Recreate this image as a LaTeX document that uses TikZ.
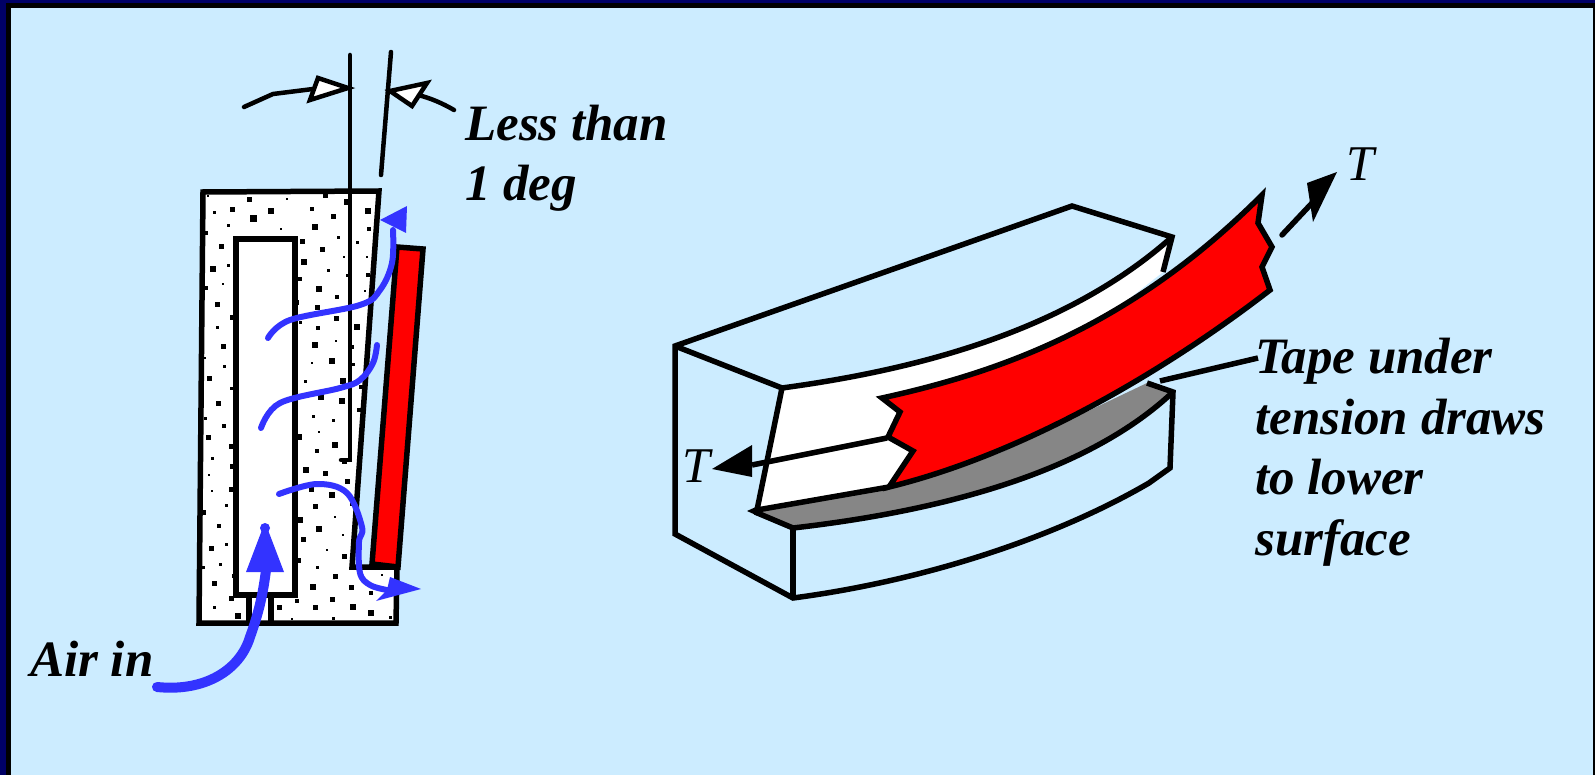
\documentclass[tikz,border=0pt]{standalone}
\usepackage{fontspec}
\setmainfont{Liberation Serif}
\definecolor{panelblue}{HTML}{CCECFF}
\definecolor{framenavy}{HTML}{000066}
\definecolor{flowblue}{HTML}{3333FF}
\definecolor{tapered}{HTML}{FF0000}
\definecolor{filmgray}{HTML}{868686}
\tikzset{
    edge/.style={draw=black,line width=5.5pt,line join=miter,miter limit=6},
    thinedge/.style={draw=black,line width=4.5pt,line cap=round},
    flow/.style={draw=flowblue,line width=6pt,line cap=round,line join=round},
    head/.style={fill=flowblue},
    callout/.style={font=\fontsize{51}{60.5}\selectfont\bfseries\itshape,inner sep=0pt,align=left},
    forcelabel/.style={font=\fontsize{50}{50}\selectfont\itshape,inner sep=0pt}
}
\begin{document}
\begin{tikzpicture}[x=1pt,y=-1pt]
    \useasboundingbox (0,0) rectangle (1595,775);
    \fill[framenavy] (0,0) rectangle (1595,775);
    \fill[black] (6,3) rectangle (1595,775);
    \fill[panelblue] (11,8) rectangle (1593,775);

    \draw[edge,fill=white] (203,192)--(379,191)--(352,567)--(397,567)--(396,623)--(199,623)--cycle;
    \foreach \x/\y/\s in {249/200/5,287/199/2,325/196/5,347/202/6,208/196/2,214/213/3,232/210/5,271/211/6,312/209/4,333/217/5,368/211/6,253/219/7,228/226/3,315/227/6,281/229/2,369/229/4,206/233/4,338/238/3,302/242/5,221/247/5,322/250/5,357/243/3,344/257/2,367/257/2,304/262/6,213/269/6,228/266/3,328/271/3,347/276/3,368/275/4,300/279/4,223/284/2,206/288/4,319/289/6,365/291/2,337/297/4,217/305/5,296/303/5,317/308/5,232/318/5,336/319/5,300/323/3,357/327/6,318/328/4,217/328/3,223/347/5,336/341/2,315/345/6,296/343/3,352/347/4,205/358/2,224/367/3,312/363/2,332/361/6,353/365/3,209/378/5,231/388/3,218/403/5,205/418/3,224/426/4,208/437/5,231/446/5,212/458/3,232/466/5,209/475/2,212/491/2,231/489/5,226/505/3,203/512/5,219/526/4,211/548/5,226/544/3,220/564/3,203/567/3,234/576/4,214/583/5,231/598/5,214/607/3,238/616/6,305/381/3,343/381/6,321/397/6,342/401/6,313/416/3,333/420/3,299/437/6,319/432/2,335/445/6,317/451/4,344/461/5,306/470/6,325/473/5,347/481/5,311/489/5,332/495/6,351/504/3,315/506/5,335/517/2,300/520/6,319/529/6,343/535/2,303/539/5,327/550/2,344/556/5,298/560/5,317/567/3,335/576/5,382/575/2,313/587/6,351/587/5,371/593/4,297/601/4,332/599/5,279/607/5,315/607/5,353/607/6,371/613/6,292/619/2,333/618/3,390/617/3,361/387/4,359/410/4}
        \fill[black] (\x-\s/2,\y-\s/2) rectangle (\x+\s/2,\y+\s/2);
    \draw[edge,fill=white] (236,239) rectangle (295,595);
    \draw[edge] (249,595)--(249,623);
    \draw[edge] (271,595)--(271,623);
    \draw[thinedge] (350,55)--(350,460)--(341,460);
    \draw[thinedge] (391,52)--(381,175);
    \draw[edge,fill=tapered] (397,247)--(423,249)--(398,567)--(372,564)--cycle;

    \draw[thinedge] (244,107)--(273,94)--(313,89);
    \draw[thinedge,fill=white,line cap=butt] (318,78)--(348,88)--(310,100)--cycle;
    \draw[thinedge] (454,110) .. controls (442,103) and (430,98) .. (418,95);
    \draw[thinedge,fill=white,line cap=butt] (427,83)--(390,91)--(412,106)--cycle;

    \draw[flow] plot[smooth,tension=.6] coordinates {(268,338) (290,320) (360,305) (380,290) (392,263) (393,230)};
    \fill[head] (407,206)--(380,220)--(406,233)--cycle;
    \draw[flow] plot[smooth,tension=.6] coordinates {(261,428) (280,403) (340,388) (360,380) (373,363) (377,345)};
    \draw[flow] plot[smooth,tension=.6] coordinates {(279,494) (317,484) (347,493) (362,527) (359,542) (360,573) (370,585) (387,590)};
    \fill[head] (421,589)--(390,577)--(387,590)--(376,601)--cycle;
    \draw[flow,line width=10pt] (157,687) .. controls (205,692) and (240,670) .. (250,637) .. controls (258,615) and (263,595) .. (266,570);
    \fill[head] (265,528) circle (5pt);
    \fill[head] (262,530)--(268,530)--(284,572)--(246,572)--cycle;

    \fill[white] (782,388) .. controls (900,372) and (1060,337) .. (1172,237)--(1163,272)--(1000,400)--(889,487)--(757,510)--cycle;
    \fill[filmgray] (755,512)--(793,528) .. controls (950,510) and (1090,470) .. (1173,392)--(1147,383)--(1000,453)--(889,487)--cycle;
    \draw[edge] (1173,392) .. controls (1090,470) and (950,510) .. (793,528)--(755,512);
    \draw[edge] (1147,383)--(1173,392)--(1170,468)--(1149,483) .. controls (1060,535) and (930,580) .. (793,598)--(675,534)--(675,346)--(1072,206)--(1172,237)--(1163,272);
    \draw[edge] (675,346)--(782,388) .. controls (900,372) and (1060,337) .. (1172,237);
    \draw[edge] (793,528)--(793,598);
    \draw[edge] (782,388)--(757,510)--(889,487);
    \fill[black] (747,511)--(758,506)--(758,516)--cycle;
    \draw[edge] (752,465)--(887,438);
    \fill[black] (712,469)--(752,445)--(752,477)--cycle;
    \draw[edge,fill=tapered] (882,398) .. controls (1000,372) and (1130,327) .. (1262,195)--(1258,223)--(1272,247)--(1262,267)--(1270,290) .. controls (1160,375) and (1020,455) .. (889,487)--(913,451)--(888,437)--(900,412)--cycle;
    \draw[edge,line cap=round] (1282,235)--(1313,202);
    \fill[black] (1337,172)--(1307,183)--(1313,222)--cycle;

    \node[callout,anchor=base west] (lessthan) at (465,141) {Less than};
    \node[callout,anchor=base west] (onedeg) at (465,201) {1 deg};
    \node[callout,anchor=base west] (airin) at (30,676) {Air in};
    \node[callout,anchor=north west] (tapelabel) at (1255,338) {Tape under\\tension draws\\to lower\\surface};
    \node[forcelabel,anchor=base west] (tleft) at (682,482) {T};
    \node[forcelabel,anchor=base west] (tright) at (1346,181) {T};
    \coordinate (leadertip) at (1160,381);
    \coordinate (leaderend) at (1258,358);
    \draw[edge] (leadertip)--(leaderend);
\end{tikzpicture}
\end{document}
